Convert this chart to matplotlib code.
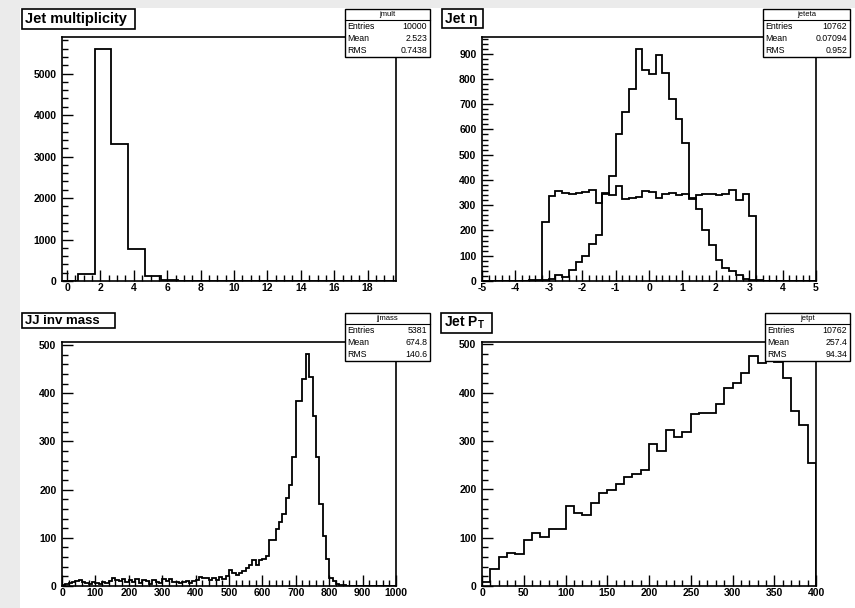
import matplotlib
matplotlib.use('Agg')
import matplotlib.pyplot as plt
from matplotlib.patches import Rectangle
from matplotlib.ticker import MultipleLocator
import numpy as np

plt.rcParams['font.family'] = ['Liberation Sans', 'DejaVu Sans']
plt.rcParams['axes.unicode_minus'] = False

W, H = 855, 608

# jet multiplicity: 20 unit bins
mult_counts = [0, 170, 5600, 3290, 780, 130, 30, 0, 0, 0,
               0, 0, 0, 0, 0, 0, 0, 0, 0, 0]

# jet eta: 50 bins from -5 to 5 (two histograms drawn together)
eta_central = [0, 0, 0, 0, 0, 0, 0, 3, 3, 5,
               9, 22, 16, 42, 75, 98, 148, 181, 345, 416,
               583, 669, 761, 920, 836, 820, 893, 823, 722, 642,
               545, 330, 286, 200, 141, 82, 53, 40, 22, 9,
               5, 2, 0, 0, 0, 0, 0, 0, 0, 0]
eta_flat = [0, 0, 0, 0, 0, 0, 0, 0, 0,
            233, 335, 356, 350, 343, 348, 352, 359, 309, 350,
            340, 375, 326, 330, 333, 355, 352, 330, 345, 350,
            340, 345, 326, 342, 343, 345, 342, 345, 362, 322,
            345, 256, 0, 0, 0, 0, 0, 0, 0, 0, 0]

# dijet invariant mass: 100 bins from 0 to 1000
mass_counts = [2, 5, 7, 8, 10, 12, 9, 7, 5, 8,
               6, 4, 8, 7, 10, 17, 12, 10, 14, 8,
               12, 9, 14, 7, 12, 10, 5, 12, 9, 7,
               14, 10, 15, 8, 9, 6, 8, 10, 6, 11,
               13, 18, 16, 17, 12, 16, 13, 18, 15, 20,
               33, 28, 22, 27, 32, 37, 44, 53, 44, 53,
               57, 62, 95, 95, 118, 133, 150, 182, 210, 268,
               384, 384, 430, 482, 433, 353, 267, 171, 103, 55,
               17, 10, 5, 3, 2, 1, 0, 0, 0, 0,
               0, 0, 0, 0, 0, 0, 0, 0, 0, 0]

# jet pT: 40 bins from 0 to 400
pt_counts = [8, 36, 59, 69, 66, 95, 109, 102, 118, 118,
             165, 151, 147, 171, 192, 199, 211, 226, 231, 241,
             294, 280, 322, 308, 319, 355, 359, 359, 376, 410,
             421, 441, 476, 462, 481, 464, 431, 362, 334, 254]

titles = ['Jet multiplicity', 'Jet \u03b7', 'JJ inv mass', r'Jet P$_{\mathregular{T}}$']
title_sizes = [10.5, 10, 9.5, 10]
stat_names = ['jmult', 'jeteta', 'jjmass', 'jetpt']
stat_entries = ['10000', '10762', '5381', '10762']
stat_means = ['2.523', '0.07094', '674.8', '257.4']
stat_rms = ['0.7438', '0.952', '140.6', '94.34']

fig = plt.figure(figsize=(W / 100, H / 100), dpi=100)
fig.patch.set_facecolor('#ebebeb')
fig.patches.append(Rectangle((20 / W, 0), 1, 1 - 8 / H, transform=fig.transFigure,
                             facecolor='white', edgecolor='none', zorder=-5))


def add_frame(x0, y0, x1, y1):
    return fig.add_axes([x0 / W, 1 - y1 / H, (x1 - x0) / W, (y1 - y0) / H])


def fig_box(x0, y0, x1, y1, lw=1.0):
    fig.patches.append(Rectangle((x0 / W, 1 - y1 / H), (x1 - x0) / W, (y1 - y0) / H,
                                 transform=fig.transFigure, facecolor='white',
                                 edgecolor='black', lw=lw, zorder=5))


def title_box(x0, y0, x1, y1, i):
    fig_box(x0, y0, x1, y1, lw=1.2)
    fig.text((x0 + 3) / W, 1 - (y0 + y1) / 2 / H, titles[i], fontsize=title_sizes[i],
             fontweight='bold', ha='left', va='center', zorder=6)


def stat_box(x0, y0, x1, y1, i):
    fig_box(x0, y0, x1, y1)
    hy = y0 + 11
    fig.add_artist(plt.Line2D([x0 / W, x1 / W], [1 - hy / H, 1 - hy / H],
                              transform=fig.transFigure, color='black', lw=0.8, zorder=6))
    fig.text((x0 + x1) / 2 / W, 1 - (y0 + hy) / 2 / H, stat_names[i], fontsize=5.5,
             ha='center', va='center', zorder=7)
    rows = [('Entries', stat_entries[i]), ('Mean', stat_means[i]), ('RMS', stat_rms[i])]
    step = (y1 - hy) / 3
    for k, (lab, val) in enumerate(rows):
        yc = 1 - (hy + step * (k + 0.5)) / H
        fig.text((x0 + 2) / W, yc, lab, fontsize=6.3, ha='left', va='center', zorder=7)
        fig.text((x1 - 3) / W, yc, val, fontsize=6.3, ha='right', va='center', zorder=7)


def style(ax, xmaj, xmin, ymaj, ymin):
    ax.xaxis.set_major_locator(MultipleLocator(xmaj))
    ax.xaxis.set_minor_locator(MultipleLocator(xmin))
    ax.yaxis.set_major_locator(MultipleLocator(ymaj))
    ax.yaxis.set_minor_locator(MultipleLocator(ymin))
    ax.tick_params(which='both', direction='in', top=False, right=False,
                   labelsize=7.5, width=1, color='black')
    ax.tick_params(axis='y', which='major', length=8, pad=4)
    ax.tick_params(axis='x', which='major', length=8, pad=1.5)
    ax.tick_params(which='minor', length=4)
    for lab in ax.get_xticklabels() + ax.get_yticklabels():
        lab.set_fontweight('bold')
    for s in ax.spines.values():
        s.set_linewidth(1.2)


frames = [(62, 37, 396, 281), (482, 37, 816, 281), (62, 342, 396, 586), (482, 342, 816, 586)]

# panel 1
ax = add_frame(*frames[0])
edges = np.linspace(-0.35, 19.65, len(mult_counts) + 1)
ax.stairs(mult_counts, edges, color='black', lw=1.3)
ax.set_xlim(-0.3, 19.7)
ax.set_ylim(0, max(mult_counts) * 1.05)
style(ax, 2, 0.5, 1000, 200)

# panel 2
ax = add_frame(*frames[1])
edges = np.linspace(-5, 5, len(eta_central) + 1)
ax.stairs(eta_central, edges, color='black', lw=1.3)
ax.stairs(eta_flat, edges, color='black', lw=1.3)
ax.set_xlim(-5, 5)
ax.set_ylim(0, max(eta_central) * 1.05)
style(ax, 1, 0.2, 100, 20)

# panel 3
ax = add_frame(*frames[2])
edges = np.linspace(0, 1000, len(mass_counts) + 1)
ax.stairs(mass_counts, edges, color='black', lw=1.3)
ax.set_xlim(0, 1000)
ax.set_ylim(0, max(mass_counts) * 1.05)
style(ax, 100, 20, 100, 20)

# panel 4
ax = add_frame(*frames[3])
edges = np.linspace(0, 400, len(pt_counts) + 1)
ax.stairs(pt_counts, edges, color='black', lw=1.3)
ax.set_xlim(0, 400)
ax.set_ylim(0, max(pt_counts) * 1.05)
style(ax, 50, 10, 100, 20)

title_box(22, 9, 135, 29, 0)
title_box(442, 9, 483, 28, 1)
title_box(22, 313, 115, 328, 2)
title_box(441, 313, 492, 333, 3)

stat_box(345, 9, 430, 57, 0)
stat_box(763, 9, 850, 57, 1)
stat_box(345, 313, 430, 361, 2)
stat_box(765, 313, 850, 361, 3)

fig.savefig('out.png', dpi=100, facecolor=fig.get_facecolor())
